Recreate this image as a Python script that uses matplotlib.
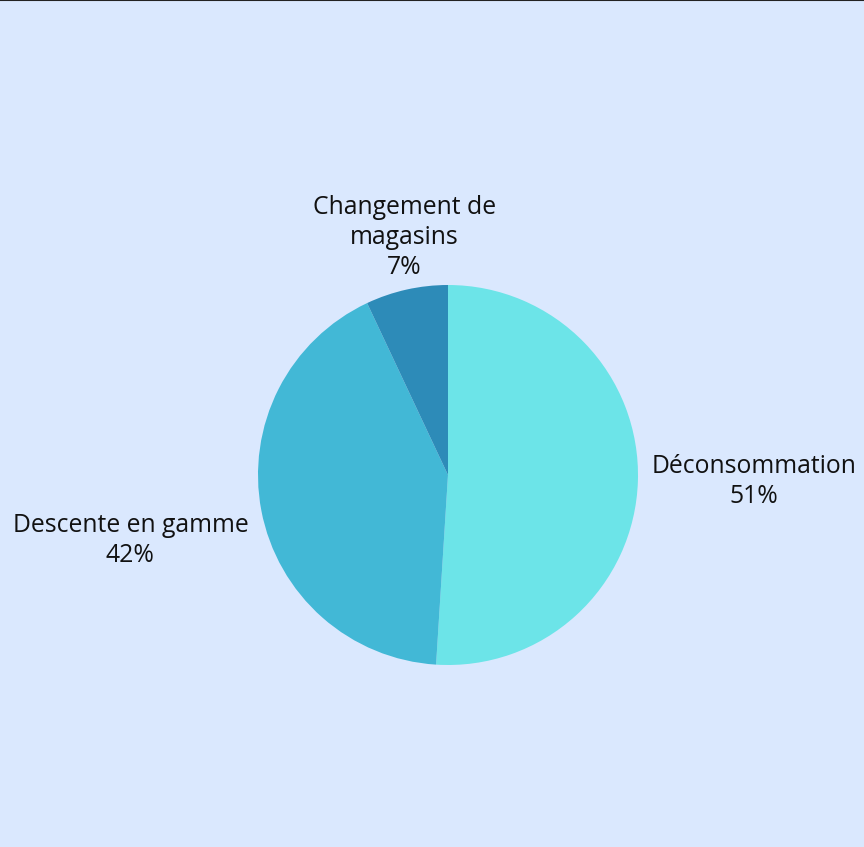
import numpy as np
import matplotlib.pyplot as plt

# Data
categories = ['Déconsommation', 'Descente en gamme', 'Changement de\nmagasins']
shares = [51, 42, 7]
colors = ['#6ce4e8', '#42b8d6', '#2d8bb8']

bg = '#dae8fe'
cx, cy, radius = 448, 847 - 475, 190

fig = plt.figure(figsize=(8.64, 8.47), dpi=100, facecolor=bg)
ax = fig.add_axes([0, 0, 1, 1])
ax.set_facecolor(bg)

wedges, _ = ax.pie(shares, colors=colors, startangle=90, counterclock=False,
                   center=(cx, cy), radius=radius,
                   wedgeprops=dict(linewidth=0))

ax.set_xlim(0, 864)
ax.set_ylim(0, 847)
ax.set_aspect('equal')
ax.axis('off')

# label placement, per wedge
align = [('left', 'center', 1.07), ('right', 'top', 1.07), ('center', 'bottom', 1.05)]
for w, cat, val, (ha, va, dist) in zip(wedges, categories, shares, align):
    ang = np.deg2rad((w.theta1 + w.theta2) / 2)
    x = cx + radius * dist * np.cos(ang)
    y = cy + radius * dist * np.sin(ang)
    ax.text(x, y, f'{cat}\n{val}%', ha=ha, va=va, multialignment='center',
            fontsize=17.8, fontfamily='Open Sans', color='#111111', linespacing=1.27)

# thin dark line at top edge
fig.add_artist(plt.Line2D([0, 1], [0.9995, 0.9995], color='#222222', linewidth=1.5,
                          transform=fig.transFigure))

fig.savefig('out.png', dpi=100, facecolor=bg)
